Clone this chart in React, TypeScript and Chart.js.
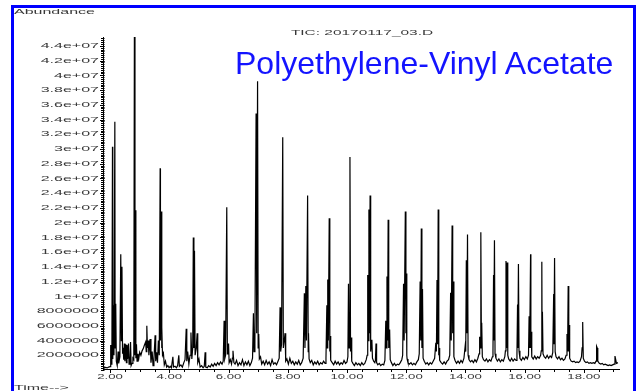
import React, { useEffect, useRef } from 'react';
import { Chart, registerables } from 'chart.js';

Chart.register(...registerables);

// Total ion chromatogram, [retention time (min), abundance]
const earlyEluters: [number, number][] = [
  [1.79, 0.30e6], [1.84, 0.35e6], [1.90, 0.28e6], [1.95, 0.40e6], [2.00, 0.45e6],
  [2.02, 3.4e6], [2.04, 0.8e6], [2.06, 1.2e6], [2.08, 30.3e6], [2.09, 1.5e6],
  [2.11, 8.8e6], [2.13, 2.0e6], [2.16, 33.7e6], [2.17, 3.0e6], [2.19, 9.0e6],
  [2.21, 1.2e6], [2.24, 0.6e6], [2.27, 2.5e6], [2.29, 0.9e6], [2.33, 1.8e6],
  [2.36, 15.7e6], [2.38, 4.0e6], [2.40, 14.0e6], [2.42, 2.2e6], [2.44, 3.0e6],
  [2.46, 1.4e6], [2.48, 3.6e6], [2.50, 1.2e6], [2.53, 3.5e6], [2.55, 1.0e6],
  [2.57, 3.4e6], [2.59, 1.5e6], [2.62, 3.6e6], [2.64, 0.8e6], [2.67, 1.1e6],
  [2.69, 3.8e6], [2.71, 0.6e6], [2.74, 0.9e6], [2.77, 1.6e6], [2.80, 1.4e6],
  [2.82, 45.3e6], [2.84, 2.0e6], [2.85, 21.7e6], [2.87, 1.6e6], [2.89, 3.5e6],
  [2.91, 1.2e6], [2.94, 2.2e6], [2.97, 1.6e6], [3.00, 2.4e6], [3.04, 2.0e6],
  [3.08, 2.6e6], [3.12, 2.9e6], [3.16, 3.4e6], [3.20, 3.8e6], [3.22, 2.5e6],
  [3.24, 6.0e6], [3.26, 3.0e6], [3.29, 4.0e6], [3.31, 2.0e6], [3.35, 4.2e6],
  [3.38, 1.0e6], [3.42, 2.5e6], [3.45, 0.6e6], [3.48, 1.5e6], [3.52, 4.7e6],
  [3.54, 1.2e6], [3.57, 2.4e6], [3.60, 1.0e6], [3.63, 4.0e6], [3.66, 2.0e6],
  [3.69, 27.4e6], [3.70, 4.0e6], [3.72, 21.5e6], [3.74, 3.0e6], [3.75, 5.8e6],
  [3.77, 2.0e6], [3.80, 2.3e6], [3.83, 0.7e6], [3.87, 1.2e6], [3.91, 0.4e6],
  [3.95, 0.6e6], [3.99, 0.3e6], [4.03, 0.5e6], [4.07, 0.3e6], [4.12, 1.8e6],
  [4.14, 0.4e6], [4.19, 0.5e6], [4.24, 0.3e6], [4.28, 0.6e6], [4.32, 2.0e6],
  [4.34, 0.5e6], [4.39, 0.7e6], [4.44, 0.4e6], [4.49, 1.0e6], [4.53, 1.4e6],
  [4.57, 5.6e6], [4.59, 1.2e6], [4.62, 2.5e6], [4.66, 0.8e6], [4.70, 2.0e6],
  [4.73, 5.1e6], [4.76, 1.5e6], [4.79, 3.0e6], [4.81, 18.0e6], [4.83, 3.0e6],
  [4.85, 16.2e6], [4.87, 2.0e6], [4.91, 3.0e6], [4.94, 5.0e6], [4.96, 1.0e6],
  [5.00, 1.5e6], [5.04, 0.4e6], [5.09, 0.6e6], [5.14, 0.3e6], [5.18, 0.5e6],
  [5.21, 2.4e6], [5.23, 0.4e6], [5.28, 0.3e6], [5.33, 0.6e6], [5.38, 0.4e6],
  [5.43, 0.8e6], [5.48, 0.5e6], [5.53, 0.9e6], [5.58, 0.6e6], [5.63, 1.0e6],
  [5.68, 0.7e6], [5.73, 1.1e6], [5.78, 0.8e6], [5.82, 1.2e6], [5.85, 6.7e6],
  [5.87, 1.5e6], [5.90, 2.0e6], [5.94, 22.1e6], [5.96, 2.2e6], [5.98, 3.0e6],
  [6.00, 3.6e6], [6.02, 1.0e6], [6.06, 1.4e6], [6.10, 0.8e6], [6.13, 1.6e6],
  [6.15, 2.6e6], [6.18, 1.0e6],
];

const midRun: [number, number][] = [
  [6.22, 0.8e6], [6.27, 1.3e6], [6.32, 0.6e6], [6.37, 1.0e6], [6.42, 0.7e6],
  [6.47, 1.4e6], [6.52, 0.6e6], [6.57, 1.1e6], [6.62, 0.7e6], [6.67, 1.2e6],
  [6.72, 0.6e6], [6.77, 1.0e6], [6.81, 1.6e6], [6.84, 7.7e6], [6.86, 2.5e6],
  [6.89, 3.5e6], [6.93, 34.8e6], [6.95, 5.0e6], [6.98, 39.2e6], [7.00, 3.0e6],
  [7.02, 4.9e6], [7.04, 1.5e6], [7.08, 1.8e6], [7.12, 0.8e6], [7.17, 1.2e6],
  [7.22, 0.7e6], [7.27, 1.3e6], [7.32, 0.8e6], [7.37, 1.1e6], [7.42, 0.6e6],
  [7.47, 1.4e6], [7.52, 0.8e6], [7.57, 1.0e6], [7.62, 0.7e6], [7.67, 1.2e6],
  [7.71, 1.6e6], [7.74, 8.5e6], [7.76, 2.5e6], [7.79, 3.5e6], [7.83, 31.6e6],
  [7.85, 3.0e6], [7.88, 4.0e6], [7.91, 5.0e6], [7.93, 1.2e6], [7.97, 1.5e6],
  [8.02, 0.8e6], [8.07, 1.6e6], [8.12, 0.9e6], [8.17, 1.2e6], [8.22, 0.7e6],
  [8.27, 1.1e6], [8.32, 0.8e6], [8.37, 1.3e6], [8.42, 0.7e6], [8.47, 1.0e6],
  [8.52, 1.6e6], [8.56, 10.4e6], [8.58, 3.0e6], [8.61, 11.4e6], [8.63, 4.0e6],
  [8.67, 23.7e6], [8.69, 2.5e6], [8.70, 5.0e6], [8.72, 1.5e6], [8.76, 1.0e6],
  [8.81, 1.3e6], [8.86, 0.7e6], [8.91, 1.1e6], [8.96, 0.8e6], [9.01, 1.2e6],
  [9.06, 0.7e6], [9.11, 1.0e6], [9.16, 0.8e6], [9.21, 1.2e6], [9.26, 0.9e6],
  [9.29, 1.6e6], [9.32, 8.8e6], [9.33, 3.0e6], [9.35, 12.3e6], [9.37, 4.0e6],
  [9.40, 20.6e6], [9.42, 2.5e6], [9.43, 4.6e6], [9.45, 1.3e6], [9.50, 1.0e6],
  [9.55, 0.7e6], [9.60, 1.2e6], [9.65, 0.8e6], [9.70, 1.1e6], [9.75, 0.7e6],
  [9.80, 1.0e6], [9.85, 0.8e6], [9.90, 1.3e6], [9.95, 0.9e6], [10.00, 1.1e6],
  [10.03, 1.8e6], [10.05, 11.7e6], [10.07, 3.0e6], [10.10, 28.9e6], [10.12, 2.5e6],
  [10.14, 4.4e6], [10.16, 1.2e6], [10.20, 0.9e6], [10.25, 0.6e6], [10.30, 1.0e6],
  [10.35, 0.7e6], [10.40, 0.9e6], [10.45, 0.6e6], [10.50, 1.0e6], [10.55, 0.7e6],
  [10.60, 0.9e6], [10.65, 1.4e6], [10.68, 2.0e6], [10.70, 12.9e6], [10.72, 4.0e6],
  [10.74, 21.8e6], [10.76, 5.0e6], [10.78, 23.7e6], [10.80, 2.5e6], [10.84, 4.1e6],
  [10.86, 1.6e6], [10.90, 1.2e6], [10.94, 1.0e6], [10.96, 1.3e6], [10.98, 3.6e6],
  [11.00, 1.0e6], [11.04, 0.7e6], [11.09, 0.9e6], [11.14, 0.6e6], [11.19, 0.8e6],
  [11.24, 0.7e6], [11.28, 1.3e6], [11.31, 6.7e6], [11.33, 3.0e6], [11.35, 12.7e6],
  [11.37, 4.0e6], [11.39, 20.4e6], [11.41, 3.0e6], [11.44, 5.5e6], [11.46, 1.4e6],
  [11.50, 1.0e6], [11.55, 0.6e6], [11.60, 0.9e6], [11.65, 0.6e6], [11.70, 0.8e6],
  [11.75, 0.7e6], [11.80, 1.0e6], [11.85, 1.4e6], [11.88, 2.0e6], [11.91, 11.7e6],
  [11.93, 4.0e6], [11.97, 21.5e6], [11.99, 5.0e6], [12.00, 13.1e6], [12.02, 2.0e6],
  [12.03, 1.5e6], [12.06, 1.0e6], [12.11, 0.8e6], [12.16, 1.0e6], [12.21, 0.7e6],
  [12.26, 0.9e6], [12.31, 0.7e6], [12.36, 1.1e6], [12.41, 1.4e6], [12.44, 2.2e6],
  [12.47, 12.0e6], [12.49, 4.0e6], [12.51, 19.2e6], [12.53, 3.0e6], [12.55, 11.0e6],
  [12.57, 1.6e6], [12.61, 1.2e6], [12.66, 0.8e6], [12.71, 1.0e6], [12.76, 0.7e6],
  [12.81, 1.0e6], [12.86, 0.8e6], [12.91, 1.2e6], [12.96, 1.6e6],
];

const lateRun: [number, number][] = [
  [13.00, 3.7e6], [13.02, 2.5e6], [13.04, 12.2e6], [13.06, 3.5e6], [13.08, 21.8e6],
  [13.10, 2.0e6], [13.11, 3.0e6], [13.13, 1.3e6], [13.18, 1.0e6], [13.23, 0.8e6],
  [13.28, 1.1e6], [13.33, 0.8e6], [13.38, 1.2e6], [13.43, 1.4e6], [13.47, 2.0e6],
  [13.50, 10.5e6], [13.52, 4.0e6], [13.55, 19.6e6], [13.57, 5.0e6], [13.59, 12.0e6],
  [13.61, 1.8e6], [13.65, 1.3e6], [13.70, 0.9e6], [13.75, 1.2e6], [13.80, 0.9e6],
  [13.85, 1.3e6], [13.90, 1.0e6], [13.95, 1.6e6], [13.99, 3.2e6], [14.01, 2.5e6],
  [14.03, 14.9e6], [14.05, 5.0e6], [14.07, 18.4e6], [14.09, 2.0e6], [14.12, 1.4e6],
  [14.17, 1.1e6], [14.22, 1.3e6], [14.27, 1.0e6], [14.32, 1.4e6], [14.37, 1.1e6],
  [14.42, 1.6e6], [14.46, 2.2e6], [14.48, 4.5e6], [14.50, 3.0e6], [14.52, 18.7e6],
  [14.54, 3.0e6], [14.55, 6.4e6], [14.57, 1.8e6], [14.61, 1.4e6], [14.66, 1.2e6],
  [14.71, 1.5e6], [14.76, 1.1e6], [14.81, 1.4e6], [14.86, 1.2e6], [14.91, 1.8e6],
  [14.93, 2.4e6], [14.95, 12.9e6], [14.96, 4.0e6], [14.98, 17.6e6], [15.00, 2.2e6],
  [15.03, 1.6e6], [15.08, 1.2e6], [15.13, 1.5e6], [15.18, 1.1e6], [15.23, 1.4e6],
  [15.28, 1.2e6], [15.33, 1.8e6], [15.35, 2.6e6], [15.37, 14.8e6], [15.39, 3.0e6],
  [15.41, 14.6e6], [15.43, 2.0e6], [15.46, 1.5e6], [15.51, 1.2e6], [15.56, 1.6e6],
  [15.61, 1.2e6], [15.66, 1.5e6], [15.71, 1.3e6], [15.74, 2.2e6], [15.76, 8.9e6],
  [15.77, 3.0e6], [15.79, 14.4e6], [15.81, 2.6e6], [15.84, 1.6e6], [15.89, 1.3e6],
  [15.94, 1.7e6], [15.99, 1.4e6], [16.04, 1.8e6], [16.09, 1.5e6], [16.13, 2.0e6],
  [16.15, 7.3e6], [16.17, 3.0e6], [16.20, 15.7e6], [16.21, 3.0e6], [16.22, 5.2e6],
  [16.24, 1.8e6], [16.29, 1.5e6], [16.34, 1.9e6], [16.39, 1.5e6], [16.44, 1.8e6],
  [16.49, 1.6e6], [16.54, 2.0e6], [16.56, 2.6e6], [16.58, 14.7e6], [16.59, 3.0e6],
  [16.60, 7.9e6], [16.62, 2.2e6], [16.66, 1.8e6], [16.71, 1.6e6], [16.76, 2.0e6],
  [16.81, 1.6e6], [16.86, 1.9e6], [16.91, 1.7e6], [16.95, 2.4e6], [16.98, 10.3e6],
  [16.99, 3.5e6], [17.01, 15.2e6], [17.03, 2.5e6], [17.06, 1.8e6], [17.11, 1.5e6],
  [17.16, 1.8e6], [17.21, 1.4e6], [17.26, 1.6e6], [17.31, 1.3e6], [17.36, 1.5e6],
  [17.40, 2.0e6], [17.43, 4.9e6], [17.45, 2.5e6], [17.47, 11.4e6], [17.49, 2.5e6],
  [17.50, 6.1e6], [17.52, 1.6e6], [17.57, 1.2e6], [17.62, 1.1e6], [17.67, 1.2e6],
  [17.72, 1.0e6], [17.77, 1.1e6], [17.82, 1.0e6], [17.87, 1.2e6], [17.92, 1.8e6],
  [17.94, 3.0e6], [17.96, 6.5e6], [17.98, 1.6e6], [18.02, 1.2e6], [18.07, 1.0e6],
  [18.12, 1.1e6], [18.17, 0.9e6], [18.22, 1.0e6], [18.27, 0.9e6], [18.32, 1.0e6],
  [18.37, 0.9e6], [18.41, 1.2e6], [18.43, 3.2e6], [18.45, 3.0e6], [18.47, 1.2e6],
  [18.52, 0.9e6], [18.57, 0.8e6], [18.62, 0.9e6], [18.67, 0.7e6], [18.72, 0.8e6],
  [18.77, 0.7e6], [18.82, 0.6e6], [18.87, 0.7e6], [18.92, 0.6e6], [18.97, 0.7e6],
  [19.02, 0.8e6], [19.05, 1.9e6], [19.07, 1.5e6], [19.10, 0.9e6], [19.15, 1.0e6],
];

// Axis ticks
const timeTicks = [2, 4, 6, 8, 10, 12, 14, 16, 18];
const abundanceTicks = [
  2e6, 4e6, 6e6, 8e6, 1e7, 1.2e7, 1.4e7, 1.6e7, 1.8e7, 2e7, 2.2e7,
  2.4e7, 2.6e7, 2.8e7, 3e7, 3.2e7, 3.4e7, 3.6e7, 3.8e7, 4e7, 4.2e7, 4.4e7,
];

const TIME_MIN = 1.76;
const TIME_MAX = 19.22;
const ABUND_MAX = 45.2e6;
const TIME_MINOR = 0.5;
const ABUND_MINOR = 2.5e5;

const LABEL_FONT = '8px "Liberation Sans", Arial, sans-serif';
const LABEL_COLOR = '#383838';

const fmtAbundance = (v: number) =>
  v >= 1e7 ? v.toExponential().replace(/e\+(\d)$/, 'e+0$1') : String(v);

const chemAxes = {
  id: 'chemAxes',
  afterDraw(chart: any) {
    const { ctx, chartArea: a, scales } = chart;
    const xs = scales.x;
    const ys = scales.y;
    ctx.save();
    ctx.strokeStyle = '#000';
    ctx.lineWidth = 1;
    ctx.beginPath();
    // axis lines
    ctx.moveTo(a.left + 0.5, a.top);
    ctx.lineTo(a.left + 0.5, a.bottom);
    ctx.moveTo(a.left, a.bottom - 0.5);
    ctx.lineTo(a.right, a.bottom - 0.5);
    // abundance ticks
    for (let v = 0; v <= ABUND_MAX; v += ABUND_MINOR) {
      const py = Math.round(ys.getPixelForValue(v)) + 0.5;
      ctx.moveTo(a.left - 2, py);
      ctx.lineTo(a.left + 1.5, py);
    }
    abundanceTicks.forEach((v) => {
      const py = Math.round(ys.getPixelForValue(v)) + 0.5;
      ctx.moveTo(a.left - 3, py);
      ctx.lineTo(a.left + 1.5, py);
    });
    // time ticks
    for (let t = Math.ceil(TIME_MIN / TIME_MINOR) * TIME_MINOR; t <= TIME_MAX; t += TIME_MINOR) {
      const px = Math.round(xs.getPixelForValue(t)) + 0.5;
      ctx.moveTo(px, a.bottom);
      ctx.lineTo(px, a.bottom + 2);
    }
    timeTicks.forEach((t) => {
      const px = Math.round(xs.getPixelForValue(t)) + 0.5;
      ctx.moveTo(px, a.bottom);
      ctx.lineTo(px, a.bottom + 3);
    });
    ctx.stroke();

    // tick labels, drawn wide like the instrument's plot font
    ctx.font = LABEL_FONT;
    ctx.fillStyle = LABEL_COLOR;
    ctx.textBaseline = 'middle';
    ctx.textAlign = 'right';
    abundanceTicks.forEach((v) => {
      const py = ys.getPixelForValue(v);
      ctx.save();
      ctx.translate(a.left - 4, py);
      ctx.scale(2, 1);
      ctx.fillText(fmtAbundance(v), 0, 0);
      ctx.restore();
    });
    ctx.textAlign = 'center';
    timeTicks.forEach((t) => {
      const px = xs.getPixelForValue(t);
      ctx.save();
      ctx.translate(px, a.bottom + 7);
      ctx.scale(1.65, 1);
      ctx.fillText(t.toFixed(2), 0, 0);
      ctx.restore();
    });
    ctx.restore();
  },
};

const wideText = (scale: number, origin: string): React.CSSProperties => ({
  position: 'absolute',
  font: LABEL_FONT,
  lineHeight: '8px',
  color: LABEL_COLOR,
  whiteSpace: 'nowrap',
  transform: `scaleX(${scale})`,
  transformOrigin: origin,
});

export default function App() {
  const canvasRef = useRef<HTMLCanvasElement | null>(null);

  useEffect(() => {
    if (!canvasRef.current) return;
    const trace = [...earlyEluters, ...midRun, ...lateRun].map(([t, a]) => ({ x: t, y: a }));
    const chart = new Chart(canvasRef.current, {
      type: 'line',
      data: {
        datasets: [
          {
            data: trace,
            borderColor: '#000',
            borderWidth: 1.2,
            pointRadius: 0,
            tension: 0,
          },
        ],
      },
      options: {
        animation: false,
        responsive: false,
        devicePixelRatio: 1,
        parsing: false,
        normalized: true,
        layout: { padding: { top: 37, right: 22, left: 0, bottom: 0 } },
        plugins: { legend: { display: false }, tooltip: { enabled: false } },
        scales: {
          x: {
            type: 'linear',
            min: TIME_MIN,
            max: TIME_MAX,
            grid: { display: false },
            border: { display: false },
            ticks: { display: false },
            afterBuildTicks: (s: any) => {
              s.ticks = timeTicks.map((v) => ({ value: v }));
            },
            afterFit: (s: any) => {
              s.height = 21;
            },
          },
          y: {
            type: 'linear',
            min: 0,
            max: ABUND_MAX,
            grid: { display: false },
            border: { display: false },
            ticks: { display: false },
            afterBuildTicks: (s: any) => {
              s.ticks = abundanceTicks.map((v) => ({ value: v }));
            },
            afterFit: (s: any) => {
              s.width = 103;
            },
          },
        },
      },
      plugins: [chemAxes],
    } as any);
    return () => chart.destroy();
  }, []);

  return (
    <div
      style={{
        position: 'absolute',
        left: 0,
        top: 0,
        width: 642,
        height: 391,
        overflow: 'hidden',
        background: '#fff',
      }}
    >
      <canvas ref={canvasRef} width={642} height={391} style={{ position: 'absolute', left: 0, top: 0 }} />
      <div
        style={{
          position: 'absolute',
          left: 11,
          top: 5,
          width: 625,
          height: 390,
          boxSizing: 'border-box',
          borderLeft: '3px solid #0000ff',
          borderTop: '3px solid #0000ff',
          borderRight: '3px solid #0000ff',
        }}
      />
      <div style={{ ...wideText(2, 'left center'), left: 14, top: 8 }}>Abundance</div>
      <div style={{ ...wideText(2, 'left center'), left: 14, top: 384 }}>Time--&gt;</div>
      <div style={{ ...wideText(1.93, 'center center'), left: 262, width: 200, textAlign: 'center', top: 29 }}>
        TIC: 20170117_03.D
      </div>
      <div
        style={{
          position: 'absolute',
          left: 235,
          top: 47,
          font: '32px "Liberation Sans", Arial, sans-serif',
          lineHeight: '32px',
          color: '#1414ff',
          whiteSpace: 'nowrap',
        }}
      >
        Polyethylene-Vinyl Acetate
      </div>
    </div>
  );
}
